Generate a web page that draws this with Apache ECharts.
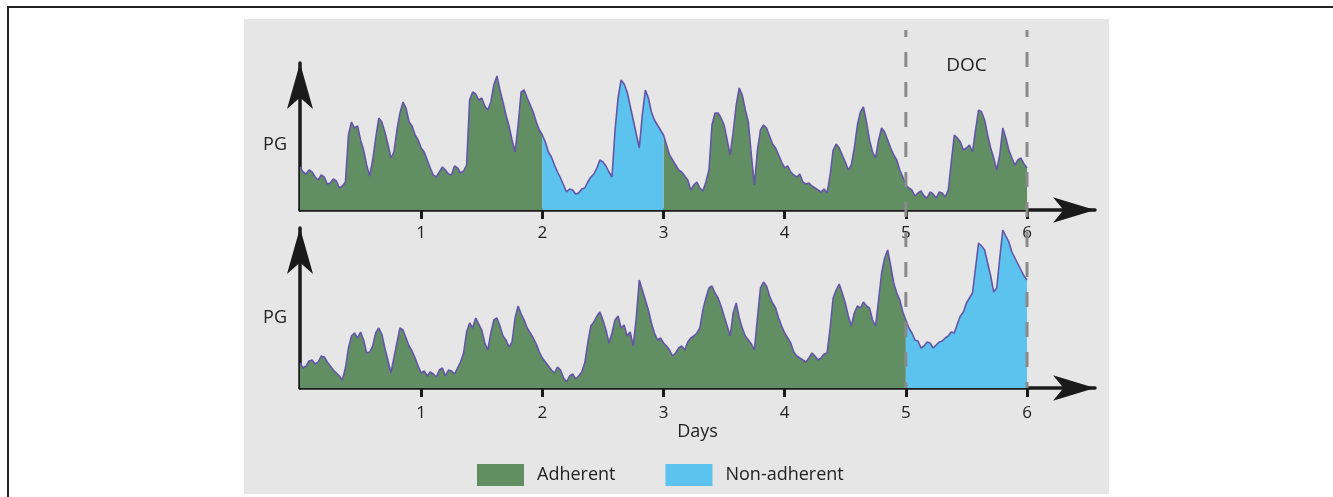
<!DOCTYPE html>
<html>
<head>
<meta charset="utf-8">
<script src="https://cdn.jsdelivr.net/npm/echarts@6/dist/echarts.min.js"></script>
<style>
body { margin: 0; background: #fff; }
#frame { position: absolute; left: 7px; top: 6px; width: 1330px; height: 495px; border-top: 2px solid #222; border-left: 2px solid #222; }
#main { position: absolute; left: 0; top: 0; width: 1333px; height: 497px; }
</style>
</head>
<body>
<div id="frame"></div>
<div id="main"></div>
<script>
var myChart = echarts.init(document.getElementById('main'));

// glucose traces, sampled every 1/40 day (0..6 days), height above baseline
var samplesPerDay = 40;
var topPG = [
    43, 38, 36, 40, 38, 33, 30, 35, 33, 26, 27, 31, 29, 22, 24, 28, 75, 88, 82, 84,
    70, 60, 45, 34, 50, 72, 92, 88, 78, 66, 52, 58, 80, 97, 108, 102, 88, 84, 75, 70,
    62, 58, 50, 42, 35, 33, 38, 43, 40, 36, 35, 44, 42, 37, 39, 45, 110, 118, 116, 110,
    112, 104, 100, 108, 125, 134, 120, 108, 95, 84, 70, 58, 85, 118, 120, 112, 105, 98, 88, 80,
    75, 68, 58, 53, 45, 38, 32, 25, 18, 21, 20, 16, 17, 21, 22, 28, 33, 36, 42, 50,
    48, 44, 38, 33, 80, 112, 130, 126, 118, 104, 90, 76, 62, 95, 120, 112, 98, 90, 85, 80,
    75, 65, 55, 50, 45, 40, 38, 34, 30, 20, 25, 28, 22, 19, 28, 40, 85, 97, 97, 92,
    85, 70, 55, 78, 105, 122, 115, 100, 88, 55, 25, 60, 80, 85, 82, 74, 66, 62, 55, 48,
    42, 44, 38, 35, 33, 36, 28, 26, 27, 24, 22, 20, 18, 21, 17, 35, 60, 66, 62, 55,
    48, 40, 45, 62, 85, 98, 103, 88, 70, 58, 52, 70, 82, 78, 70, 62, 55, 50, 40, 33,
    25, 22, 20, 14, 17, 19, 14, 12, 18, 16, 12, 18, 17, 13, 20, 48, 75, 72, 68, 60,
    62, 65, 58, 80, 100, 98, 90, 75, 62, 52, 40, 55, 82, 72, 60, 52, 45, 50, 52, 46,
    42
];
var bottomPG = [
    25, 20, 22, 27, 28, 24, 26, 32, 31, 26, 22, 18, 15, 12, 8, 20, 40, 52, 55, 50,
    56, 48, 35, 36, 42, 55, 60, 54, 40, 28, 15, 30, 45, 60, 58, 50, 42, 37, 30, 22,
    15, 17, 12, 16, 14, 11, 18, 20, 12, 18, 17, 14, 20, 26, 35, 56, 65, 60, 70, 64,
    58, 45, 38, 55, 68, 70, 62, 52, 48, 41, 46, 70, 82, 74, 68, 60, 55, 50, 44, 36,
    30, 26, 22, 18, 15, 21, 18, 10, 6, 12, 14, 9, 12, 16, 25, 45, 62, 66, 72, 76,
    68, 58, 45, 55, 68, 72, 60, 63, 52, 56, 42, 70, 108, 98, 88, 78, 65, 55, 48, 50,
    45, 42, 38, 32, 35, 40, 42, 38, 46, 50, 52, 55, 60, 78, 90, 100, 102, 95, 90, 82,
    72, 62, 52, 75, 85, 70, 60, 52, 48, 44, 38, 70, 100, 106, 102, 92, 85, 80, 70, 62,
    55, 50, 45, 36, 32, 30, 28, 26, 30, 35, 32, 28, 30, 34, 35, 60, 90, 98, 104, 95,
    85, 72, 62, 75, 82, 80, 86, 82, 80, 68, 62, 88, 115, 130, 138, 122, 105, 95, 88, 76,
    68, 60, 55, 48, 47, 40, 42, 46, 45, 40, 43, 46, 47, 50, 52, 56, 55, 64, 72, 76,
    85, 90, 95, 120, 145, 142, 138, 125, 112, 96, 100, 130, 158, 152, 146, 136, 130, 124, 118, 112,
    108
];
var tickDays = [1, 2, 3, 4, 5, 6];
var topNonAdherent = [2, 3];
var bottomNonAdherent = [5, 6];
var docDays = [5, 6];

var green = '#618f63';
var blue = '#5cc3ee';
var purple = '#6455a8';
var axisColor = '#1a1a1a';
var font = '"Open Sans", "Noto Sans", sans-serif';

function pick(values, inside)
{
    return values.map(function (v, i) {
        var d = i / samplesPerDay;
        return inside(d) ? [d, v] : [d, '-'];
    });
}

function makeX(gridIndex, margin, withName)
{
    var ax = {
        type: 'value',
        gridIndex: gridIndex,
        min: 0,
        max: 6.561,
        axisLine: {
            show: true,
            onZero: false,
            symbol: ['none', 'arrow'],
            symbolSize: [19, 42],
            lineStyle: { color: axisColor, width: 3.5 }
        },
        axisTick: {
            show: true,
            customValues: tickDays,
            length: 9,
            lineStyle: { color: axisColor, width: 3 }
        },
        axisLabel: {
            customValues: tickDays,
            margin: margin,
            fontSize: 17,
            fontFamily: font,
            color: '#222'
        },
        splitLine: { show: false }
    };
    if (withName)
    {
        ax.name = 'Days';
        ax.nameLocation = 'middle';
        ax.nameGap = 35;
        ax.nameTextStyle = { fontSize: 18, fontFamily: font, color: '#222' };
    }
    return ax;
}

function makeY(gridIndex, max)
{
    return {
        type: 'value',
        gridIndex: gridIndex,
        min: 0,
        max: max,
        axisLine: {
            show: true,
            symbol: ['none', 'arrow'],
            symbolSize: [19.5, 46],
            lineStyle: { color: axisColor, width: 3.5 }
        },
        axisTick: { show: false },
        axisLabel: { show: false },
        splitLine: { show: false }
    };
}

function areaSeries(name, color, idx, data)
{
    return {
        name: name,
        type: 'line',
        xAxisIndex: idx,
        yAxisIndex: idx,
        data: data,
        showSymbol: false,
        clip: false,
        itemStyle: { color: color },
        lineStyle: { width: 0 },
        areaStyle: { color: color, opacity: 1 },
        z: 2
    };
}

function traceSeries(idx, values)
{
    return {
        type: 'line',
        xAxisIndex: idx,
        yAxisIndex: idx,
        data: values.map(function (v, i) { return [i / samplesPerDay, v]; }),
        showSymbol: false,
        clip: false,
        lineStyle: { color: purple, width: 1.6 },
        z: 3
    };
}

var topIn = function (d) { return d >= topNonAdherent[0] && d <= topNonAdherent[1]; };
var botIn = function (d) { return d >= bottomNonAdherent[0] && d <= bottomNonAdherent[1]; };

option = {
    animation: false,
    backgroundColor: 'transparent',
    graphic: [
        {
            type: 'rect',
            shape: { x: 244, y: 19, width: 865, height: 475 },
            style: { fill: '#e6e6e6' },
            z: -10
        }
    ],
    grid: [
        { left: 300, right: 238, top: 63, height: 147 },
        { left: 300, right: 238, top: 228, height: 160 }
    ],
    xAxis: [makeX(0, 15, false), makeX(1, 17, true)],
    yAxis: [makeY(0, 147), makeY(1, 160)],
    legend: {
        data: ['Adherent', 'Non-adherent'],
        left: 477,
        top: 464,
        padding: 0,
        icon: 'rect',
        itemWidth: 47,
        itemHeight: 22,
        itemGap: 50,
        selectedMode: false,
        textStyle: { fontSize: 18, fontFamily: font, color: '#222', padding: [0, 0, 0, 8] }
    },
    series: [
        areaSeries('Adherent', green, 0, pick(topPG, function (d) {
            return d <= topNonAdherent[0] || d >= topNonAdherent[1];
        })),
        areaSeries('Non-adherent', blue, 0, pick(topPG, topIn)),
        traceSeries(0, topPG),
        areaSeries('Adherent', green, 1, pick(bottomPG, function (d) { return d <= bottomNonAdherent[0]; })),
        areaSeries('Non-adherent', blue, 1, pick(bottomPG, botIn)),
        traceSeries(1, bottomPG)
    ]
};

myChart.setOption(option);

// dashed window marking the DOC period and the axis titles, placed with the axis scales
var extra = docDays.map(function (d) {
    var x = myChart.convertToPixel({ xAxisIndex: 0 }, d);
    return {
        type: 'line',
        shape: { x1: x, y1: 30, x2: x, y2: 388 },
        style: { stroke: '#8a8a8a', lineWidth: 3, lineDash: [15, 15], lineDashOffset: 8 },
        z: 20
    };
});
var mid = myChart.convertToPixel({ xAxisIndex: 0 }, (docDays[0] + docDays[1]) / 2);
extra.push({
    type: 'text',
    x: mid,
    y: 66,
    style: { text: 'DOC', fontSize: 19, fontFamily: font, fill: '#222', textAlign: 'center', textVerticalAlign: 'middle' },
    z: 20
});
[[0, 65], [1, 70]].forEach(function (p) {
    var x0 = myChart.convertToPixel({ xAxisIndex: p[0] }, 0);
    var y = myChart.convertToPixel({ yAxisIndex: p[0] }, p[1]);
    extra.push({
        type: 'text',
        x: x0 - 13,
        y: y,
        style: { text: 'PG', fontSize: 18, fontFamily: font, fill: '#222', textAlign: 'right', textVerticalAlign: 'middle' },
        z: 20
    });
});
myChart.setOption({ graphic: option.graphic.concat(extra) });
</script>
</body>
</html>
